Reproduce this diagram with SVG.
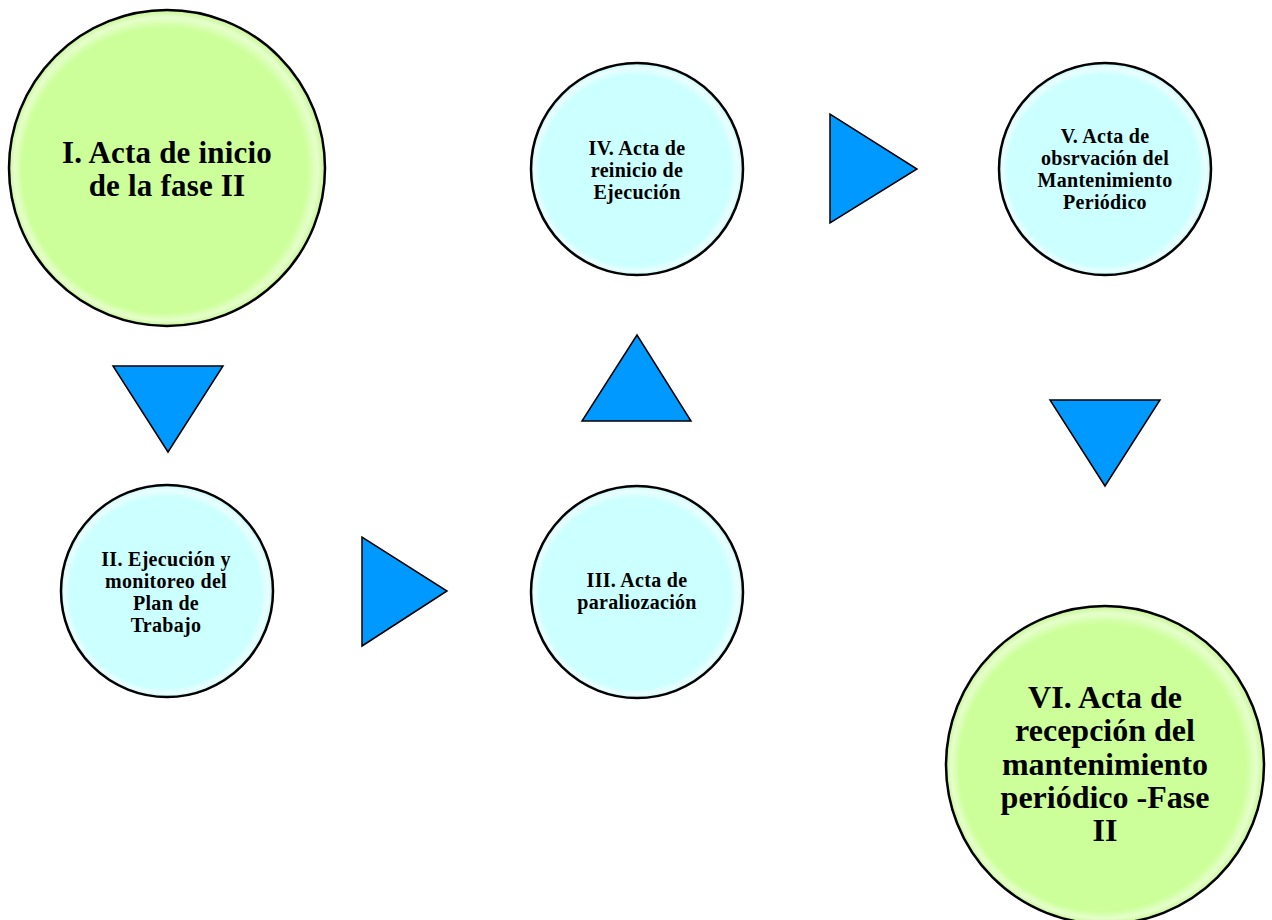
<svg xmlns="http://www.w3.org/2000/svg" width="1272" height="920" viewBox="0 0 1272 920">
<defs>
<radialGradient id="gGreen" cx="0.5" cy="0.5" r="0.5" fx="0.42" fy="0.58">
<stop offset="0" stop-color="#ccff99"/>
<stop offset="0.9" stop-color="#ccff99"/>
<stop offset="0.96" stop-color="#e6ffcc"/>
<stop offset="1" stop-color="#c6f594"/>
</radialGradient>
<radialGradient id="gCyan" cx="0.5" cy="0.5" r="0.5" fx="0.42" fy="0.58">
<stop offset="0" stop-color="#ccffff"/>
<stop offset="0.9" stop-color="#ccffff"/>
<stop offset="0.96" stop-color="#ebffff"/>
<stop offset="1" stop-color="#c4f6f8"/>
</radialGradient>
</defs>
<style>
.node circle{stroke:#000;stroke-width:2.5}
.green{fill:url(#gGreen)}
.cyan{fill:url(#gCyan)}
text{font-family:"Liberation Serif","Times New Roman",serif;font-weight:bold;fill:#000;text-anchor:middle}
.big{font-size:32px}
.big1{font-size:31px;letter-spacing:0.2px}
.small{font-size:20px;letter-spacing:0.3px}
.arrow{fill:#0099ff;stroke:#000;stroke-width:1.5;stroke-linejoin:miter}
</style>
<rect width="1272" height="920" fill="#fff"/>
<g id="connectors">
<polygon class="arrow" points="113,366 223,366 168,452"/>
<polygon class="arrow" points="362,537 362,646 447,591"/>
<polygon class="arrow" points="637,335 582,421 691,421"/>
<polygon class="arrow" points="830,114 830,223 917,169"/>
<polygon class="arrow" points="1050,400 1160,400 1105,486"/>
</g>
<g id="node1" class="node">
<circle class="green" cx="167" cy="168" r="158"/>
<text class="big1" x="167" y="163">I. Acta de inicio</text>
<text class="big1" x="167" y="196">de la fase II</text>
</g>
<g id="node2" class="node">
<circle class="cyan" cx="167" cy="591" r="106"/>
<text class="small" x="166" y="566">II. Ejecución y</text>
<text class="small" x="166" y="588">monitoreo del</text>
<text class="small" x="166" y="610">Plan de</text>
<text class="small" x="166" y="632">Trabajo</text>
</g>
<g id="node3" class="node">
<circle class="cyan" cx="637" cy="592" r="106"/>
<text class="small" x="637" y="587">III. Acta de</text>
<text class="small" x="637" y="609">paraliozación</text>
</g>
<g id="node4" class="node">
<circle class="cyan" cx="637" cy="169" r="106"/>
<text class="small" x="637" y="155">IV. Acta de</text>
<text class="small" x="637" y="177">reinicio de</text>
<text class="small" x="637" y="199">Ejecución</text>
</g>
<g id="node5" class="node">
<circle class="cyan" cx="1105" cy="169" r="106"/>
<text class="small" x="1105" y="143">V. Acta de</text>
<text class="small" x="1105" y="165">obsrvación del</text>
<text class="small" x="1105" y="187">Mantenimiento</text>
<text class="small" x="1105" y="209">Periódico</text>
</g>
<g id="node6" class="node">
<circle class="green" cx="1105" cy="765" r="159"/>
<text class="big" x="1105" y="708">VI. Acta de</text>
<text class="big" x="1105" y="741">recepción del</text>
<text class="big" x="1105" y="775">mantenimiento</text>
<text class="big" x="1105" y="808">periódico -Fase</text>
<text class="big" x="1105" y="841">II</text>
</g>
</svg>
